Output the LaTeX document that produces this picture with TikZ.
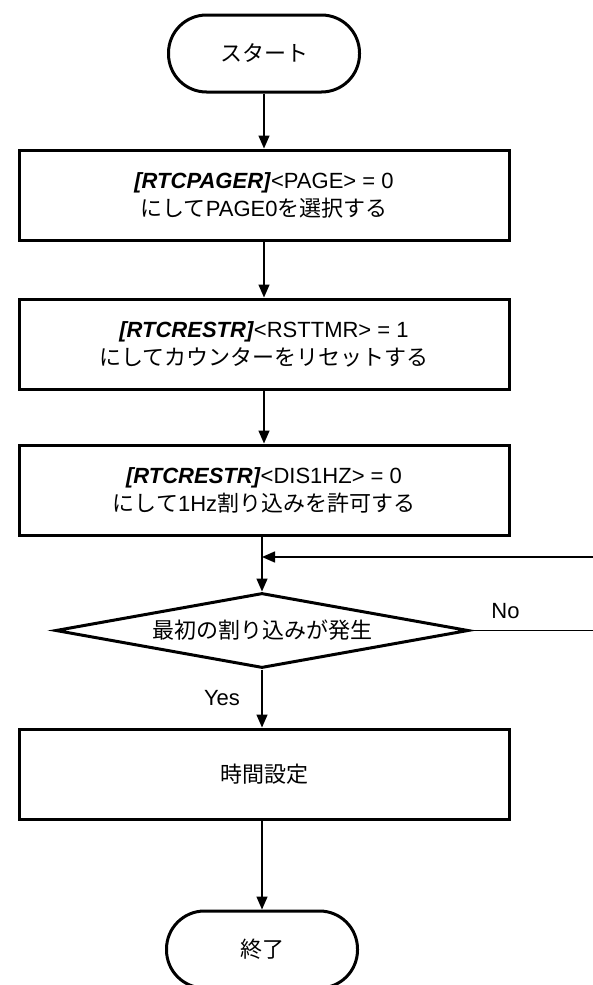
\documentclass[tikz,border=0pt]{standalone}
\usepackage{fontspec}
\setmainfont{Liberation Sans}
\newfontfamily\jp{Noto Sans CJK JP}
\usepackage{tikz}
\usetikzlibrary{shapes.geometric, arrows.meta, positioning}
\tikzstyle{terminal} = [rectangle, minimum width=191pt, minimum height=77pt, rounded corners=38pt, draw=black, line width=3pt, text centered]
\tikzstyle{process} = [rectangle, minimum width=490pt, minimum height=90pt, draw=black, line width=3pt, align=center]
\tikzstyle{decision} = [diamond, aspect=5.5, minimum width=413pt, minimum height=75pt, inner sep=0pt, draw=black, line width=3pt, text centered]
\tikzstyle{arrow} = [line width=1.5pt,->,>={Triangle[length=13pt,width=11pt]}]
\tikzstyle{plain} = [line width=1.5pt]
\newcommand{\reg}[1]{\textbf{\textit{[#1]}}}

\begin{document}
\begin{tikzpicture}[x=1pt, y=1pt, node distance=55pt, font=\fontsize{22}{28}\selectfont]
        \useasboundingbox (0,0) rectangle (593,-985);
        \node (start) [terminal] at (264,-53.5) {\jp スタート};
        \node (page) [process, below=of start] {\reg{RTCPAGER}<PAGE> = 0\\{\jp にして}PAGE0{\jp を選択する}};
        \node (reset) [process, below=56pt of page] {\reg{RTCRESTR}<RSTTMR> = 1\\{\jp にしてカウンターをリセットする}};
        \node (enable) [process, below=53pt of reset] {\reg{RTCRESTR}<DIS1HZ> = 0\\{\jp にして}1Hz{\jp 割り込みを許可する}};
        \node (wait) [decision, below=of enable, xshift=-2pt] {\jp 最初の割り込みが発生};
        \node (clock) [process, below=58pt of wait, xshift=2pt] {\jp 時間設定};
        \node (stop) [terminal, below=89pt of clock, xshift=-2pt] {\jp 終了};

        \coordinate (back) at (593,-557);
        \coordinate (noend) at (593,-632);

        \draw [arrow] (start) -- (page);
        \draw [arrow] (page) -- (reset);
        \draw [arrow] (reset) -- (enable);
        \draw [arrow] (enable.south -| wait.north) -- (wait.north);
        \draw [arrow] (back) -- (back -| wait.north);
        \draw [plain] (wait.east) -- node[above=8pt, xshift=-26pt] {No} (wait.east -| noend);
        \draw [arrow] (wait.south) -- node[left=18pt] {Yes} (wait.south |- clock.north);
        \draw [arrow] (clock.south -| stop.north) -- (stop.north);
    \end{tikzpicture}
\end{document}
